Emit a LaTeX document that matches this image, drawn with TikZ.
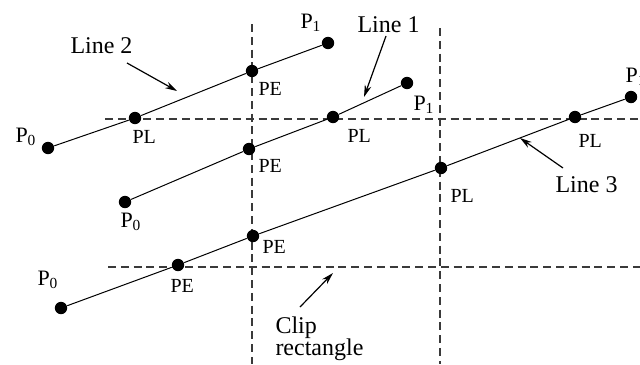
\documentclass[tikz,border=0pt]{standalone}
\usepackage{fontspec}
\setmainfont{Liberation Serif}
\usepackage{xcolor}
\usepackage{tikz}
\usetikzlibrary{arrows.meta}
\definecolor{cliplines}{HTML}{3A3A3A}

\begin{document}
\begin{tikzpicture}[x=0.5pt, y=-0.5pt, line width=0.5pt,
    dot/.style={circle, fill=black, inner sep=0pt, minimum size=6.2pt},
    cliprule/.style={cliplines, line width=0.55pt, dash pattern=on 4pt off 2.4pt},
    pt/.style={anchor=base west, inner sep=0pt, font=\fontsize{11}{13}\selectfont},
    cut/.style={anchor=base west, inner sep=0pt, font=\fontsize{10}{12}\selectfont},
    tag/.style={anchor=base west, inner sep=0pt, font=\fontsize{12}{14}\selectfont},
    pointer/.style={-{Stealth[length=6pt, width=3.4pt]}, line width=0.6pt}]

  \useasboundingbox (0,0) rectangle (640,364);

  % clip rectangle edges, running off the picture on two sides
  \coordinate (xl0) at (252,24);  \coordinate (xl1) at (252,364);
  \coordinate (xr0) at (440,28);  \coordinate (xr1) at (440,364);
  \coordinate (yt0) at (105,119); \coordinate (yt1) at (640,119);
  \coordinate (yb0) at (108,267); \coordinate (yb1) at (640,267);
  \draw[cliprule] (xl0) -- (xl1);
  \draw[cliprule] (xr0) -- (xr1);
  \draw[cliprule] (yt0) -- (yt1);
  \draw[cliprule] (yb0) -- (yb1);

  % the three segments, end points and crossings
  \foreach \nm/\px/\py in {aP0/48/148, aPL/135/118, aPE/252/71, aP1/328/43,
                           bP0/125/202, bPE/249/149, bPL/333/117, bP1/407/83,
                           cP0/61/308, cPEa/178/265, cPEb/253/236,
                           cPLa/441/168, cPLb/575/117, cP1/631/97}
    \node[dot] (\nm) at (\px,\py) {};

  \draw (aP0) -- (aPL) -- (aPE) -- (aP1);
  \draw (bP0) -- (bPE) -- (bPL) -- (bP1);
  \draw (cP0) -- (cPEa) -- (cPEb) -- (cPLa) -- (cPLb) -- (cP1);

  % end point names
  \node[pt] (aP0lab) at (15,142)  {P\textsubscript{0}};
  \node[pt] (aP1lab) at (300,28)  {P\textsubscript{1}};
  \node[pt] (bP0lab) at (120,227) {P\textsubscript{0}};
  \node[pt] (bP1lab) at (413,110) {P\textsubscript{1}};
  \node[pt] (cP0lab) at (37,285)  {P\textsubscript{0}};
  \node[pt] (cP1lab) at (625,82)  {P\textsubscript{1}};

  % entering / leaving marks
  \node[cut] (aPLlab)  at (132,143) {PL};
  \node[cut] (aPElab)  at (258,95)  {PE};
  \node[cut] (bPElab)  at (258,172) {PE};
  \node[cut] (bPLlab)  at (347,142) {PL};
  \node[cut] (cPEalab) at (170,292) {PE};
  \node[cut] (cPEblab) at (262,253) {PE};
  \node[cut] (cPLalab) at (450,202) {PL};
  \node[cut] (cPLblab) at (578,147) {PL};

  % callouts
  \node[tag] (line2) at (70,53)   {Line 2};
  \node[tag] (line1) at (357,32)  {Line 1};
  \node[tag] (line3) at (555,192) {Line 3};
  \node[tag] (clip)  at (275,333) {Clip};
  \node[tag] (rect)  at (275,355) {rectangle};

  \coordinate (t2) at (127,63);  \coordinate (h2) at (177,91);
  \coordinate (t1) at (386,36);  \coordinate (h1) at (364,97);
  \coordinate (t3) at (563,168); \coordinate (h3) at (520,138);
  \coordinate (tc) at (300,307); \coordinate (hc) at (333,273);
  \draw[pointer] (t2) -- (h2);
  \draw[pointer] (t1) -- (h1);
  \draw[pointer] (t3) -- (h3);
  \draw[pointer] (tc) -- (hc);

\end{tikzpicture}
\end{document}
